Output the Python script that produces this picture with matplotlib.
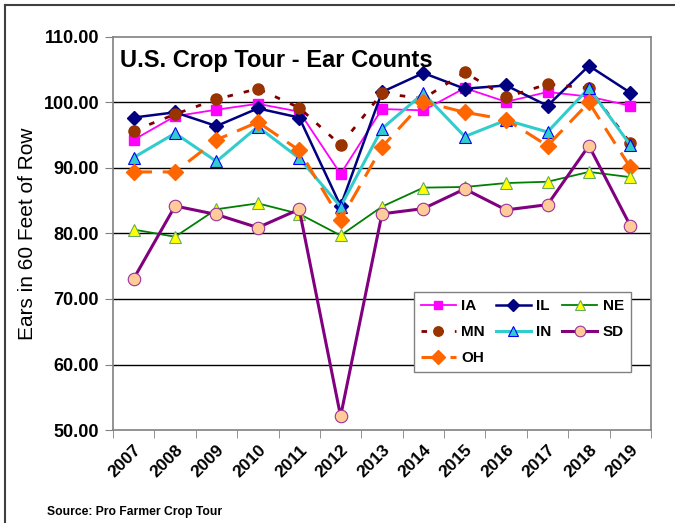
import matplotlib
matplotlib.use("Agg")
import matplotlib.pyplot as plt
from matplotlib.lines import Line2D

plt.rcParams["font.family"] = ["Liberation Sans", "DejaVu Sans"]

years = ["2007", "2008", "2009", "2010", "2011", "2012", "2013",
         "2014", "2015", "2016", "2017", "2018", "2019"]

ia = [94.3, 97.9, 98.9, 99.8, 98.6, 89.1, 99.0, 98.8, 102.2, 100.1, 101.6, 100.9, 99.5]
il = [97.7, 98.5, 96.4, 99.1, 97.7, 84.2, 101.6, 104.5, 102.1, 102.6, 99.5, 105.6, 101.5]
mn = [95.7, 98.2, 100.5, 102.1, 99.2, 93.5, 101.4, 100.6, 104.6, 100.8, 102.8, 102.2, 93.8]
in_ = [91.6, 95.3, 91.0, 96.3, 91.5, 84.1, 96.0, 101.4, 94.8, 97.3, 95.5, 102.2, 93.5]
oh = [89.4, 89.4, 94.3, 97.0, 92.7, 82.1, 93.2, 100.1, 98.5, 97.4, 93.4, 100.0, 90.1]
ne = [80.6, 79.5, 83.7, 84.6, 83.0, 79.7, 84.1, 87.0, 87.1, 87.7, 87.9, 89.4, 88.6]
sd = [73.1, 84.2, 82.9, 80.9, 83.7, 52.1, 83.0, 83.8, 86.8, 83.6, 84.4, 93.4, 81.2]

fig = plt.figure(figsize=(6.75, 5.23), dpi=100)
ax = fig.add_axes([0.1674, 0.1778, 0.797, 0.7515])
x = list(range(len(years)))

# series, drawn in this order
ax.plot(x, ia, color="#FF00FF", lw=1.3, marker="s", ms=7.5,
        mfc="#FF00FF", mec="#FF00FF", label="IA", zorder=3)
ax.plot(x, il, color="#000080", lw=1.8, marker="D", ms=7,
        mfc="#000080", mec="#000080", label="IL", zorder=4)
ax.plot(x, mn, color="#800000", lw=2, ls=(0, (2, 4)), marker="o", ms=8,
        mfc="#993300", mec="#993300", label="MN", zorder=5)
ax.plot(x, in_, color="#33CCCC", lw=2.2, marker="^", ms=9,
        mfc="#33CCCC", mec="#0000FF", mew=0.8, label="IN", zorder=6)
ax.plot(x, oh, color="#FF6600", lw=2.2, ls=(0, (6, 3.5)), marker="D", ms=8.5,
        mfc="#FF6600", mec="#FF6600", label="OH", zorder=7)
ax.plot(x, ne, color="#008000", lw=1.3, marker="^", ms=9,
        mfc="#FFFF00", mec="#66AA66", mew=0.8, label="NE", zorder=8)
ax.plot(x, sd, color="#800080", lw=2.2, marker="o", ms=9,
        mfc="#FFCC99", mec="#993399", mew=0.8, label="SD", zorder=9)

ax.set_xlim(-0.5, len(years) - 0.5)
ax.set_ylim(50, 110)
ax.set_yticks([50, 60, 70, 80, 90, 100, 110])
ax.set_yticklabels(["%.2f" % v for v in [50, 60, 70, 80, 90, 100, 110]],
                   fontsize=13, fontweight="bold")
ax.set_xticks(x)
ax.set_xticklabels(years, rotation=45, ha="right", rotation_mode="anchor",
                   fontsize=12.5, fontweight="bold")
ax.set_xticks([i - 0.5 for i in range(len(years) + 1)], minor=True)
ax.tick_params(axis="x", which="major", length=0, pad=9)
ax.tick_params(axis="x", which="minor", length=6, color="#808080", direction="out")
ax.tick_params(axis="y", length=6, color="#808080", direction="out", pad=4)

for v in [60, 70, 80, 90, 100]:
    ax.axhline(v, color="black", lw=1, zorder=1)
for s in ax.spines.values():
    s.set_color("#808080")
    s.set_linewidth(1.2)

ax.set_ylabel("Ears in 60 Feet of Row", fontsize=15, labelpad=5)

fig.text(120 / 675, 1 - 67 / 523, "U.S. Crop Tour - Ear Counts",
         fontsize=17, fontweight="bold", va="baseline", ha="left")

handles, labels = ax.get_legend_handles_labels()
order = ["IA", "MN", "OH", "IL", "IN", "NE", "SD"]
hmap = dict(zip(labels, handles))
leg = ax.legend([hmap[k] for k in order], order, ncol=3, loc="upper left",
                bbox_to_anchor=(0.5595, 0.351), frameon=True, fancybox=False,
                edgecolor="#808080", framealpha=1, borderaxespad=0,
                prop={"weight": "bold", "size": 11}, handlelength=2.3,
                handletextpad=0.35, columnspacing=0.7, labelspacing=0.8,
                borderpad=0.45, markerscale=0.85)
leg.set_zorder(20)

fig.text(47 / 675, 1 - 512 / 523, "Source: Pro Farmer Crop Tour",
         fontsize=8.7, fontweight="bold", va="center", ha="left")

# figure border (left and top)
fig.add_artist(Line2D([4.5 / 675, 4.5 / 675], [0, 1 - 4.5 / 523],
                      color="#404040", lw=1.5, transform=fig.transFigure))
fig.add_artist(Line2D([4.5 / 675, 1], [1 - 4.5 / 523, 1 - 4.5 / 523],
                      color="#404040", lw=1.5, transform=fig.transFigure))

fig.savefig("out.png", dpi=100)
